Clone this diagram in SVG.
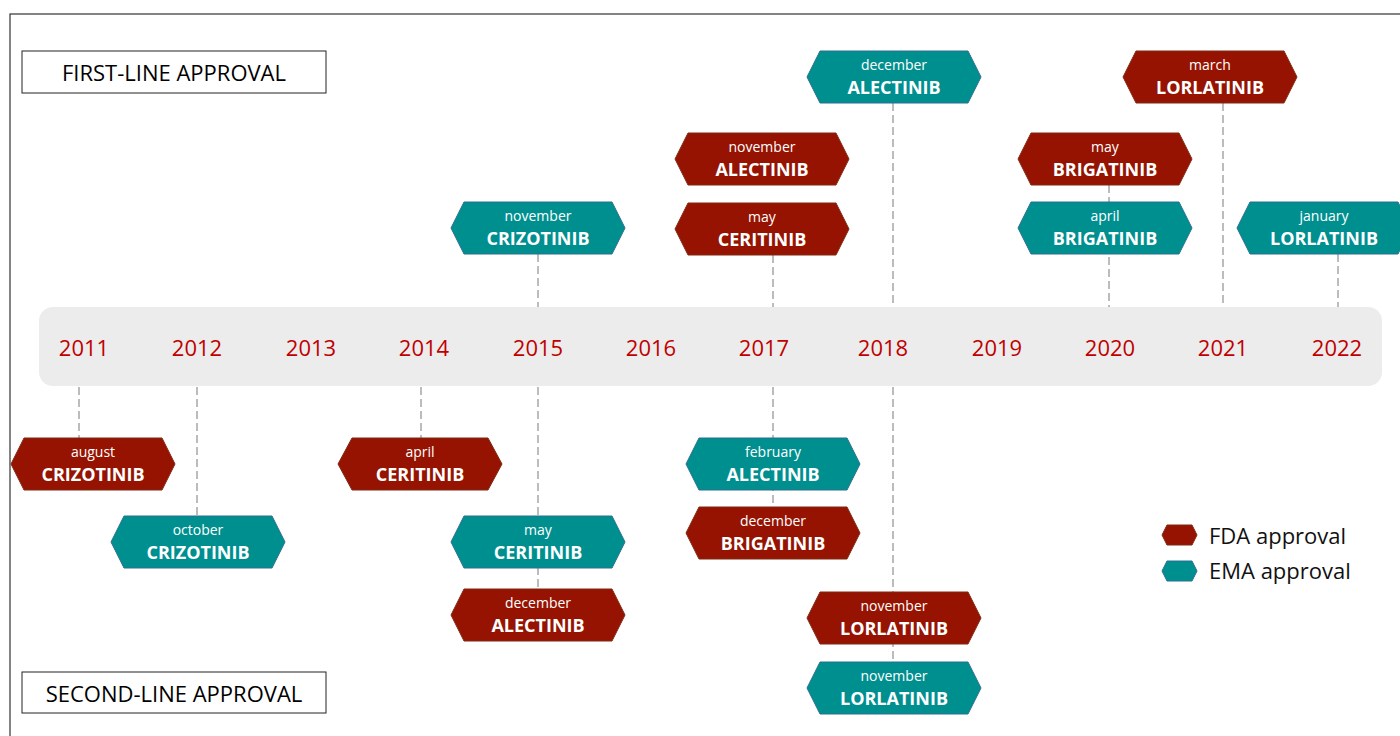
<svg xmlns="http://www.w3.org/2000/svg" width="1400" height="736" viewBox="0 0 1400 736">
<style>
.fda{fill:#951300;stroke:#7f2b14;stroke-width:1}
.ema{fill:#008f8f;stroke:#2a6f8f;stroke-width:1}
.mo{font-family:"Open Sans","Liberation Sans",sans-serif;font-size:14px;fill:#ffffff;text-anchor:middle}
.nm{font-family:"Open Sans","Liberation Sans",sans-serif;font-size:18px;font-weight:bold;fill:#ffffff;text-anchor:middle}
.yr{font-family:"Open Sans","Liberation Sans",sans-serif;font-size:22px;fill:#c00000;text-anchor:middle}
.lbl{font-family:"Open Sans","Liberation Sans",sans-serif;font-size:22px;fill:#000000;text-anchor:middle}
.leg{font-family:"Open Sans","Liberation Sans",sans-serif;font-size:22px;fill:#111111}
.dash{stroke:#a6a6a6;stroke-width:1.5;stroke-dasharray:8 4;fill:none}
</style>
<rect width="1400" height="736" fill="#ffffff"/>
<rect x="10" y="14" width="1400" height="740" fill="none" stroke="#333333" stroke-width="1.2"/>
<g id="labels">
<rect x="22" y="51" width="304" height="42" fill="#ffffff" stroke="#222222" stroke-width="1"/>
<text class="lbl" x="174" y="81">FIRST-LINE APPROVAL</text>
<rect x="22" y="672" width="304" height="41" fill="#ffffff" stroke="#222222" stroke-width="1"/>
<text class="lbl" x="174" y="702">SECOND-LINE APPROVAL</text>
</g>
<g id="timeline">
<rect x="39" y="307" width="1343" height="79" rx="14" fill="#ececec"/>
<text class="yr" x="84" y="356">2011</text>
<text class="yr" x="197" y="356">2012</text>
<text class="yr" x="311" y="356">2013</text>
<text class="yr" x="424" y="356">2014</text>
<text class="yr" x="538" y="356">2015</text>
<text class="yr" x="651" y="356">2016</text>
<text class="yr" x="764" y="356">2017</text>
<text class="yr" x="883" y="356">2018</text>
<text class="yr" x="997" y="356">2019</text>
<text class="yr" x="1110" y="356">2020</text>
<text class="yr" x="1223" y="356">2021</text>
<text class="yr" x="1337" y="356">2022</text>
</g>
<g id="connectors">
<line class="dash" x1="79" y1="387" x2="79" y2="438"/>
<line class="dash" x1="197" y1="387" x2="197" y2="516"/>
<line class="dash" x1="421" y1="387" x2="421" y2="438"/>
<line class="dash" x1="538" y1="254" x2="538" y2="307"/>
<line class="dash" x1="538" y1="387" x2="538" y2="589"/>
<line class="dash" x1="773" y1="255" x2="773" y2="307"/>
<line class="dash" x1="773" y1="387" x2="773" y2="507"/>
<line class="dash" x1="893" y1="103" x2="893" y2="307"/>
<line class="dash" x1="893" y1="387" x2="893" y2="662"/>
<line class="dash" x1="1109" y1="185" x2="1109" y2="307"/>
<line class="dash" x1="1223" y1="103" x2="1223" y2="307"/>
<line class="dash" x1="1338" y1="254" x2="1338" y2="307"/>
</g>
<g id="n1"><polygon class="ema" points="451,228 464,202 612,202 625,228 612,254 464,254"/><text class="mo" x="538" y="221">november</text><text class="nm" x="538" y="245">CRIZOTINIB</text></g>
<g id="n2"><polygon class="fda" points="675,159 688,133 836,133 849,159 836,185 688,185"/><text class="mo" x="762" y="152">november</text><text class="nm" x="762" y="176">ALECTINIB</text></g>
<g id="n3"><polygon class="fda" points="675,229 688,203 836,203 849,229 836,255 688,255"/><text class="mo" x="762" y="222">may</text><text class="nm" x="762" y="246">CERITINIB</text></g>
<g id="n4"><polygon class="ema" points="807,77 820,51 968,51 981,77 968,103 820,103"/><text class="mo" x="894" y="70">december</text><text class="nm" x="894" y="94">ALECTINIB</text></g>
<g id="n5"><polygon class="fda" points="1018,159 1031,133 1179,133 1192,159 1179,185 1031,185"/><text class="mo" x="1105" y="152">may</text><text class="nm" x="1105" y="176">BRIGATINIB</text></g>
<g id="n6"><polygon class="ema" points="1018,228 1031,202 1179,202 1192,228 1179,254 1031,254"/><text class="mo" x="1105" y="221">april</text><text class="nm" x="1105" y="245">BRIGATINIB</text></g>
<g id="n7"><polygon class="fda" points="1123,77 1136,51 1284,51 1297,77 1284,103 1136,103"/><text class="mo" x="1210" y="70">march</text><text class="nm" x="1210" y="94">LORLATINIB</text></g>
<g id="n8"><polygon class="ema" points="1237,228 1250,202 1398,202 1411,228 1398,254 1250,254"/><text class="mo" x="1324" y="221">january</text><text class="nm" x="1324" y="245">LORLATINIB</text></g>
<g id="n9"><polygon class="fda" points="11,464 24,438 162,438 175,464 162,490 24,490"/><text class="mo" x="93" y="457">august</text><text class="nm" x="93" y="481">CRIZOTINIB</text></g>
<g id="n10"><polygon class="ema" points="111,542 124,516 272,516 285,542 272,568 124,568"/><text class="mo" x="198" y="535">october</text><text class="nm" x="198" y="559">CRIZOTINIB</text></g>
<g id="n11"><polygon class="fda" points="338,464 352,438 488,438 502,464 488,490 352,490"/><text class="mo" x="420" y="457">april</text><text class="nm" x="420" y="481">CERITINIB</text></g>
<g id="n12"><polygon class="ema" points="451,542 464,516 612,516 625,542 612,568 464,568"/><text class="mo" x="538" y="535">may</text><text class="nm" x="538" y="559">CERITINIB</text></g>
<g id="n13"><polygon class="fda" points="451,615 464,589 612,589 625,615 612,641 464,641"/><text class="mo" x="538" y="608">december</text><text class="nm" x="538" y="632">ALECTINIB</text></g>
<g id="n14"><polygon class="ema" points="686,464 699,438 847,438 860,464 847,490 699,490"/><text class="mo" x="773" y="457">february</text><text class="nm" x="773" y="481">ALECTINIB</text></g>
<g id="n15"><polygon class="fda" points="686,533 699,507 847,507 860,533 847,559 699,559"/><text class="mo" x="773" y="526">december</text><text class="nm" x="773" y="550">BRIGATINIB</text></g>
<g id="n16"><polygon class="fda" points="807,618 820,592 968,592 981,618 968,644 820,644"/><text class="mo" x="894" y="611">november</text><text class="nm" x="894" y="635">LORLATINIB</text></g>
<g id="n17"><polygon class="ema" points="807,688 820,662 968,662 981,688 968,714 820,714"/><text class="mo" x="894" y="681">november</text><text class="nm" x="894" y="705">LORLATINIB</text></g>
<g id="legend">
<polygon class="fda" points="1162,535 1167,525 1192,525 1197,535 1192,545 1167,545"/>
<text class="leg" x="1209" y="544">FDA approval</text>
<polygon class="ema" points="1162,571 1167,561 1192,561 1197,571 1192,581 1167,581"/>
<text class="leg" x="1209" y="579">EMA approval</text>
</g>
</svg>
